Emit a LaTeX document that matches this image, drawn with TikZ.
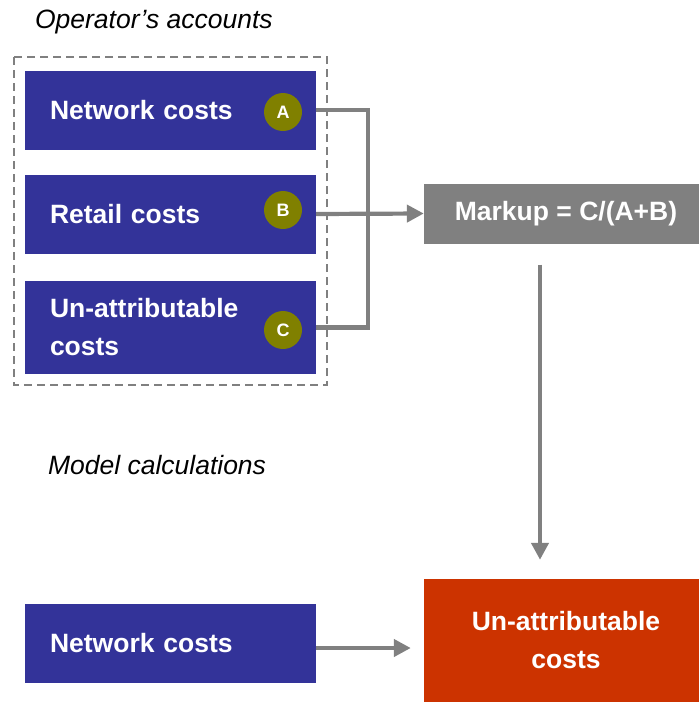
\documentclass[tikz,border=0pt]{standalone}
\usepackage{fontspec}
\setmainfont{Liberation Sans}
\usetikzlibrary{arrows.meta}

\definecolor{costblue}{RGB}{51,51,153}
\definecolor{markgrey}{RGB}{128,128,128}
\definecolor{tagolive}{RGB}{128,128,0}
\definecolor{resultred}{RGB}{204,51,0}

\tikzset{
  costbox/.style={fill=costblue, text=white, font=\bfseries\fontsize{26.5}{38}\selectfont,
    minimum width=291pt, text width=241pt, inner xsep=25pt, align=left, minimum height=79pt},
  tagdot/.style={circle, fill=tagolive, text=white, font=\bfseries\fontsize{18}{20}\selectfont,
    minimum size=38pt, inner sep=0pt},
  link/.style={draw=markgrey, line width=4.2pt},
  title/.style={font=\itshape\fontsize{26.5}{30}\selectfont, anchor=west}
}

\begin{document}
\begin{tikzpicture}[x=1pt, y=-1pt, >={Triangle[length=17pt,width=17pt]}]
    \useasboundingbox (0,0) rectangle (699,702);

    % Titel der beiden Teile
    \node[title] (accT) at (31.5,22) {Operator’s accounts};
    \node[title] (calcT) at (44.5,465) {Model calculations};

    % gestrichelter Rahmen um die Kontenpositionen
    \draw[markgrey, line width=2.8pt, dash pattern=on 8pt off 5pt] (14,57) rectangle (327,385);

    % Kostenblöcke aus den Konten
    \node[costbox] (netA) at (170.5,110) {Network costs};
    \node[costbox] (retail) at (170.5,214) {Retail costs};
    \node[costbox, minimum height=93pt] (unattr) at (170.5,327.5) {Un-attributable\\costs};

    % Kennbuchstaben
    \node[tagdot] (cA) at (283,112) {A};
    \node[tagdot] (cB) at (283,210) {B};
    \node[tagdot] (cC) at (283,330) {C};

    % Aufschlag
    \node[fill=markgrey, text=white, font=\bfseries\fontsize{26.5}{30}\selectfont,
      minimum width=275pt, minimum height=60pt] (markup) at (561.5,213.5) {\hspace*{9pt}Markup = C/(A+B)};

    % Modellrechnung
    \node[costbox] (netM) at (170.5,643.5) {Network costs};
    \node[fill=resultred, text=white, font=\bfseries\fontsize{26.5}{38}\selectfont, align=center,
      minimum width=275pt, minimum height=123pt] (result) at (561.5,640.5) {\hspace*{9pt}Un-attributable\\\hspace*{9pt}costs};

    % Verbindungen
    \coordinate (join) at (368,214);
    \draw[link] (netA.east) -| (join) |- (unattr.east);
    \draw[link, ->] (retail.east) -- (markup.west);
    \draw[link, ->, shorten <=21pt, shorten >=19pt] ([xshift=-21.5pt]markup.south) -- ([xshift=-21.5pt]result.north);
    \draw[link, ->, shorten >=13pt] ([yshift=-4.5pt]netM.east) -- ([yshift=-4.5pt]result.west |- netM.east);
\end{tikzpicture}
\end{document}
